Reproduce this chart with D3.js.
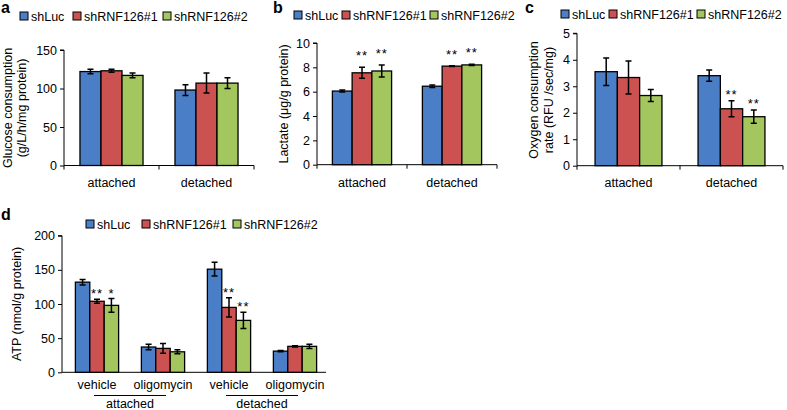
<!DOCTYPE html>
<html>
<head>
<meta charset="utf-8">
<script src="https://cdn.jsdelivr.net/npm/d3@7"></script>
<style>
  body { margin: 0; background: #fff; }
  svg { display: block; font-family: "Liberation Sans", Arial, sans-serif; }
</style>
</head>
<body>
<svg id="chart" width="787" height="410"></svg>
<script>
// data
var series = ["shLuc", "shRNF126#1", "shRNF126#2"];
var colors = ["#4a7fc7", "#cc5252", "#a3c65e"];
var cellStates = ["attached", "detached"];

var glucoseMean = [[122, 123, 117], [98, 107, 107]];
var glucoseErr = [[3, 2, 3], [7, 13, 7]];
var glucoseStars = [["", "", ""], ["", "", ""]];

var lactateMean = [[6.05, 7.55, 7.7], [6.45, 8.1, 8.2]];
var lactateErr = [[0.08, 0.45, 0.5], [0.1, 0.04, 0.05]];
var lactateStars = [["", "**", "**"], ["", "**", "**"]];

var ocrMean = [[3.55, 3.33, 2.65], [3.4, 2.15, 1.85]];
var ocrErr = [[0.52, 0.62, 0.23], [0.21, 0.3, 0.25]];
var ocrStars = [["", "", ""], ["", "**", "**"]];

var atpTreatments = ["vehicle", "oligomycin", "vehicle", "oligomycin"];
var atpMean = [[132, 104, 98], [37, 35, 30], [151, 95, 76], [31, 38, 38]];
var atpErr = [[4, 3, 10], [4, 7, 3], [10, 14, 12], [1, 1, 3]];
var atpStars = [["", "**", "*"], ["", "", ""], ["", "**", "**"], ["", "", ""]];

var FS = 12.5;
var svg = d3.select("#chart");

function drawPanel(cfg) {
	var g = svg.append("g");
	var keys = cfg.groups.map(function (d, i) { return i; });

	var x0 = d3.scaleBand().domain(keys).range(cfg.xRange).paddingInner(0);
	var x1 = d3.scaleBand().domain(d3.range(series.length))
		.range([0, x0.bandwidth()]).paddingInner(0).paddingOuter(cfg.barPad);
	var y = d3.scaleLinear().domain(cfg.yDomain).range(cfg.yRange);

	// y axis
	var yAxis = d3.axisLeft(y).tickValues(cfg.yTicks).tickSize(4).tickPadding(3)
		.tickFormat(d3.format("~g"));
	var ya = g.append("g")
		.attr("transform", "translate(" + cfg.yAxisX + ",0)")
		.call(yAxis);
	ya.select(".domain").attr("d", "M-4," + y(cfg.yDomain[1]) + "H0V" + y(0));
	ya.selectAll("line").attr("stroke", "#000");
	ya.selectAll("text").attr("font-size", FS).attr("fill", "#000")
		.attr("font-family", "Liberation Sans, Arial, sans-serif");

	// x axis line (+ boundary ticks)
	g.append("line")
		.attr("x1", cfg.yAxisX).attr("x2", cfg.xEnd)
		.attr("y1", y(0)).attr("y2", y(0))
		.attr("stroke", "#000").attr("stroke-width", 1);
	if (cfg.xTicks) {
		var bounds = keys.map(function (k) { return x0(k); }).concat([cfg.xRange[1]]);
		g.selectAll(".xt").data(bounds).enter().append("line")
			.attr("x1", function (d) { return d; }).attr("x2", function (d) { return d; })
			.attr("y1", y(0)).attr("y2", y(0) + 4)
			.attr("stroke", "#000");
	}

	// bars
	var grp = g.selectAll(".grp").data(keys).enter().append("g")
		.attr("transform", function (k) { return "translate(" + x0(k) + ",0)"; });

	grp.selectAll("rect").data(function (k) {
		return cfg.means[k].map(function (v, s) { return { s: s, v: v }; });
	}).enter().append("rect")
		.attr("x", function (d) { return x1(d.s); })
		.attr("width", x1.bandwidth())
		.attr("y", function (d) { return y(d.v); })
		.attr("height", function (d) { return y(0) - y(d.v); })
		.attr("fill", function (d) { return colors[d.s]; })
		.attr("stroke", "#000").attr("stroke-width", 1.3);

	// error bars
	var eb = grp.selectAll(".eb").data(function (k) {
		return cfg.means[k].map(function (v, s) {
			return { s: s, v: v, e: cfg.errs[k][s], star: cfg.stars[k][s] };
		});
	}).enter().append("g");
	eb.append("path")
		.attr("d", function (d) {
			var cx = x1(d.s) + x1.bandwidth() / 2;
			var t = y(d.v + d.e), b = y(d.v - d.e);
			return "M" + (cx - 3) + "," + t + "H" + (cx + 3) +
				"M" + cx + "," + t + "V" + b +
				"M" + (cx - 3) + "," + b + "H" + (cx + 3);
		})
		.attr("fill", "none").attr("stroke", "#000").attr("stroke-width", 1.5);
	eb.filter(function (d) { return d.star; }).append("text")
		.attr("x", function (d) { return x1(d.s) + x1.bandwidth() / 2; })
		.attr("y", function (d) { return y(d.v + d.e) - cfg.starGap; })
		.attr("text-anchor", "middle")
		.attr("font-size", 13).attr("letter-spacing", 1)
		.text(function (d) { return d.star; });

	// category labels
	if (cfg.catY) {
		g.selectAll(".cat").data(keys).enter().append("text")
			.attr("x", function (k) { return x0(k) + x0.bandwidth() / 2; })
			.attr("y", cfg.catY)
			.attr("text-anchor", "middle").attr("font-size", FS)
			.text(function (k) { return cfg.groups[k]; });
	}

	// y title
	cfg.title.forEach(function (line, i) {
		g.append("text")
			.attr("transform", "translate(" + cfg.titleX[i] + "," + cfg.titleY + ") rotate(-90)")
			.attr("text-anchor", "middle").attr("dy", "0.35em")
			.attr("font-size", FS)
			.text(line);
	});

	// legend
	series.forEach(function (s, i) {
		g.append("rect")
			.attr("x", cfg.legendX[i]).attr("y", cfg.legendY - 4)
			.attr("width", 8).attr("height", 8)
			.attr("fill", colors[i]).attr("stroke", "#000").attr("stroke-width", 1);
		g.append("text")
			.attr("x", cfg.legendX[i] + 11).attr("y", cfg.legendY + 4.5)
			.attr("font-size", FS)
			.text(s);
	});

	// panel letter
	g.append("text")
		.attr("x", cfg.letterX).attr("y", cfg.letterY)
		.attr("font-size", 16).attr("font-weight", "bold")
		.text(cfg.letter);

	return { x0: x0, y: y, g: g };
}

drawPanel({
	letter: "a", letterX: 1, letterY: 13,
	groups: cellStates, means: glucoseMean, errs: glucoseErr, stars: glucoseStars,
	yDomain: [0, 150], yTicks: [0, 50, 100, 150], yRange: [165.5, 50],
	yAxisX: 64, xRange: [64, 254], xEnd: 254, xTicks: true, barPad: 0.76,
	catY: 187, starGap: 2,
	title: ["Glucose consumption", "(g/L/h/mg protein)"], titleX: [8, 22], titleY: 108,
	legendX: [20, 73, 163], legendY: 16
});

drawPanel({
	letter: "b", letterX: 273, letterY: 13,
	groups: cellStates, means: lactateMean, errs: lactateErr, stars: lactateStars,
	yDomain: [0, 10], yTicks: [0, 2, 4, 6, 8, 10], yRange: [164.7, 43],
	yAxisX: 317, xRange: [317, 497], xEnd: 497, xTicks: true, barPad: 0.78,
	catY: 187, starGap: 7,
	title: ["Lactate (μg/g protein)"], titleX: [284], titleY: 104,
	legendX: [294, 342, 430], legendY: 15
});

drawPanel({
	letter: "c", letterX: 525, letterY: 13,
	groups: cellStates, means: ocrMean, errs: ocrErr, stars: ocrStars,
	yDomain: [0, 5], yTicks: [0, 1, 2, 3, 4, 5], yRange: [165.7, 33.3],
	yAxisX: 577, xRange: [577, 783], xEnd: 783, xTicks: true, barPad: 0.81,
	catY: 187, starGap: 2,
	title: ["Oxygen consumption", "rate (RFU /sec/mg)"], titleX: [534, 549], titleY: 100,
	legendX: [561, 609, 697], legendY: 14
});

var pd = drawPanel({
	letter: "d", letterX: 1, letterY: 220,
	groups: atpTreatments, means: atpMean, errs: atpErr, stars: atpStars,
	yDomain: [0, 200], yTicks: [0, 50, 100, 150, 200], yRange: [372.3, 235.7],
	yAxisX: 62, xRange: [64, 328], xEnd: 326, xTicks: false, barPad: 0.79,
	catY: 389, starGap: 1,
	title: ["ATP (nmol/g protein)"], titleX: [17], titleY: 304,
	legendX: [86, 142, 233], legendY: 224
});

// state brackets under panel d
cellStates.forEach(function (st, i) {
	var c = (pd.x0(i * 2) + pd.x0(i * 2 + 1) + pd.x0.bandwidth()) / 2;
	pd.g.append("line")
		.attr("x1", c - 36).attr("x2", c + 36)
		.attr("y1", 395.5).attr("y2", 395.5)
		.attr("stroke", "#000").attr("stroke-width", 1);
	pd.g.append("text")
		.attr("x", c).attr("y", 408)
		.attr("text-anchor", "middle").attr("font-size", FS)
		.text(st);
});
</script>
</body>
</html>
